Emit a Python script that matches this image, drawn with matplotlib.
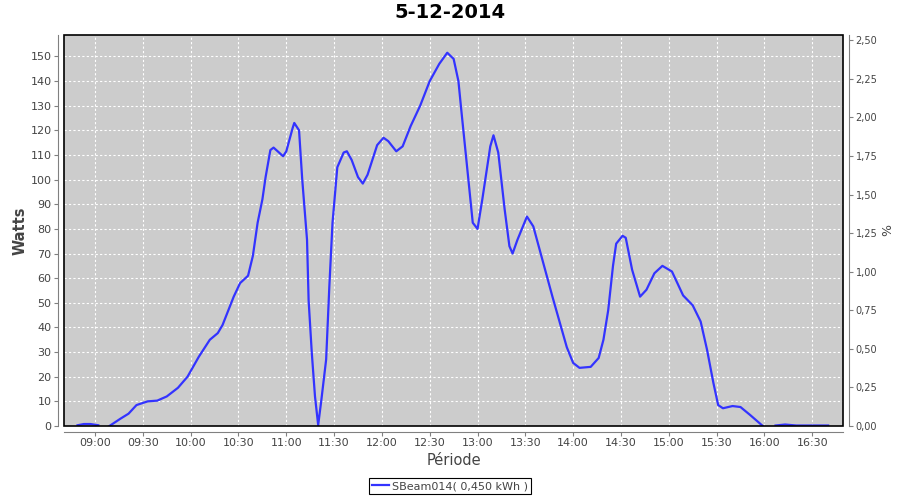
import numpy as np
import pandas as pd
import matplotlib
matplotlib.use("Agg")
import matplotlib.pyplot as plt
import matplotlib.dates as mdates
from matplotlib.ticker import FuncFormatter, MultipleLocator
from matplotlib.patches import Rectangle

# Données (heure, puissance en W), NaN = trou de données
heures = ["08:49", "08:53", "08:57", "09:02", "09:05",
          "09:09", "09:16", "09:21", "09:26", "09:33", "09:39", "09:45", "09:52", "09:58",
          "10:05", "10:12", "10:17", "10:20", "10:27", "10:31", "10:36", "10:39", "10:42",
          "10:45", "10:47", "10:50", "10:52", "10:58", "11:00", "11:04", "11:05", "11:08",
          "11:10", "11:13", "11:14", "11:16", "11:18", "11:20", "11:22", "11:25", "11:27",
          "11:29", "11:32", "11:36", "11:38", "11:41", "11:45", "11:48", "11:51", "11:57",
          "12:01", "12:04", "12:09", "12:13", "12:18", "12:24", "12:30", "12:36", "12:41",
          "12:45", "12:48", "12:50", "12:53", "12:57", "13:00", "13:03", "13:08", "13:10",
          "13:13", "13:17", "13:20", "13:22", "13:25", "13:31", "13:35", "13:39", "13:47",
          "13:56", "14:00", "14:04", "14:11", "14:16", "14:19", "14:22", "14:25", "14:27",
          "14:31", "14:33", "14:37", "14:42", "14:46", "14:51", "14:56", "15:02", "15:09",
          "15:15", "15:20", "15:24", "15:28", "15:31", "15:34", "15:40", "15:45", "15:51",
          "15:59", "16:03",
          "16:07", "16:13", "16:20", "16:40"]
watts = [0.3, 0.8, 0.8, 0.3, np.nan,
         0, 3, 5, 8.5, 10, 10.3, 12, 15.5, 20,
         28, 35, 37.7, 41, 52.5, 58, 61, 69, 82.5,
         92, 101, 112, 113, 109.5, 111.5, 121, 123, 120,
         100, 75.6, 51, 29.6, 12, 0.4, 10.6, 27, 56.6,
         82.5, 105, 111, 111.5, 108, 101, 98.4, 102, 114,
         117, 115.6, 111.5, 113.5, 121.7, 130, 140, 147, 151.5,
         149, 140, 127, 108, 82.5, 80, 92, 113.5, 118,
         111, 88, 73, 70, 75.5, 85, 81, 71.5, 52.5,
         32, 25.6, 23.6, 24, 27.6, 35, 47, 65, 74,
         77.2, 76.4, 63.4, 52.5, 55.3, 62, 65, 62.7, 53,
         49, 42.4, 31, 17.5, 8.5, 7.2, 8.1, 7.7, 4.5,
         0, np.nan,
         0.2, 0.6, 0.2, 0.2]

titre = "5-12-2014"
serie = "SBeam014( 0,450 kWh )"

t = pd.to_datetime(["2014-12-05 " + h for h in heures])
w = np.array(watts, dtype=float)

gris = "#808080"
texte = "#444444"

fig = plt.figure(figsize=(9, 5), dpi=100)
ax = fig.add_axes([64 / 900, 74 / 500, 779 / 900, 391 / 500])
ax.set_facecolor("#cccccc")

ax.plot(t, w, color="#3333ff", linewidth=1.6, zorder=3)

ax.set_xlim(pd.Timestamp("2014-12-05 08:40:30"), pd.Timestamp("2014-12-05 16:49:20"))
ax.set_ylim(0, 158.7)
ax.yaxis.set_major_locator(MultipleLocator(10))
ax.xaxis.set_major_locator(mdates.MinuteLocator(byminute=[0, 30]))
ax.xaxis.set_major_formatter(mdates.DateFormatter("%H:%M"))

ax.grid(True, color="white", linestyle=(0, (2, 2)), linewidth=0.8)
ax.set_axisbelow(True)

for s in ["top", "right"]:
    ax.spines[s].set_visible(False)
for s in ["left", "bottom"]:
    ax.spines[s].set_position(("outward", 4))
    ax.spines[s].set_color(gris)
ax.tick_params(axis="both", colors=gris, labelcolor=texte, labelsize=8, length=3, width=0.8, pad=2)

ax.add_patch(Rectangle((0, 0), 1, 1, transform=ax.transAxes, fill=False,
                       edgecolor="black", linewidth=1.2, clip_on=False, zorder=5))

ax.set_ylabel("Watts", fontsize=10.5, fontweight="bold", color=texte, labelpad=2)
ax.set_xlabel("Période", fontsize=10.5, color=texte, labelpad=3)

ax2 = ax.twinx()
ax2.set_ylim(0, 2.534)
ax2.yaxis.set_major_locator(MultipleLocator(0.25))
ax2.yaxis.set_major_formatter(FuncFormatter(lambda v, p: f"{v:.2f}".replace(".", ",")))
for s in ["top", "left", "bottom"]:
    ax2.spines[s].set_visible(False)
ax2.spines["right"].set_position(("outward", 4))
ax2.spines["right"].set_color(gris)
ax2.tick_params(axis="y", colors=gris, labelcolor=texte, labelsize=7, length=3, width=0.8, pad=2)
ax2.set_ylabel("%", fontsize=9, color=texte, labelpad=3)

fig.suptitle(titre, fontsize=14, fontweight="bold", y=0.995)

leg = fig.legend([ax.lines[0]], [serie], loc="lower center", bbox_to_anchor=(0.5, 0.0),
                 fontsize=8, fancybox=False, framealpha=1, edgecolor="black",
                 handlelength=1.5, handletextpad=0.3, borderpad=0.3, labelcolor=texte)
leg.get_frame().set_linewidth(0.8)

fig.savefig("out.png", dpi=100)
